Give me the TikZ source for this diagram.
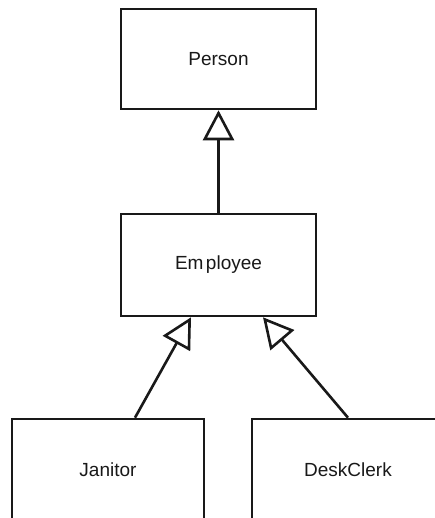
\documentclass[tikz,border=0pt]{standalone}
\usepackage{fontspec}
\setmainfont{Liberation Sans}
\usetikzlibrary{arrows.meta}
\begin{document}
\begin{tikzpicture}[x=1pt,y=-1pt,
  classbox/.style={draw=black!90, line width=2.6pt, minimum width=195pt, minimum height=100pt, inner sep=0pt, font=\fontsize{19}{22}\selectfont, text=black!90},
  leafbox/.style={classbox, minimum width=192pt, minimum height=102pt},
  inherit/.style={draw=black!90, line width=2.6pt, -{Triangle[open, length=30pt, width=31pt]}}]
\path[use as bounding box] (0,0) rectangle (435,518);
\clip (0,0) rectangle (435,518);
\fill[white] (0,0) rectangle (435,518);
\node[classbox] (person) at (218.5,59) {Person};
\node[classbox, minimum height=102pt] (emp) at (218.5,265) {Em\kern2.5pt ployee};
\node[leafbox] (jan) at (108,470) {Janitor};
\node[leafbox] (desk) at (348,470) {DeskClerk};
\draw[inherit] (emp.north) -- (person.south);
\draw[inherit] ([xshift=27pt]jan.north) -- ([xshift=-27.5pt]emp.south);
\draw[inherit] (desk.north) -- ([xshift=44.5pt]emp.south);
\end{tikzpicture}
\end{document}
